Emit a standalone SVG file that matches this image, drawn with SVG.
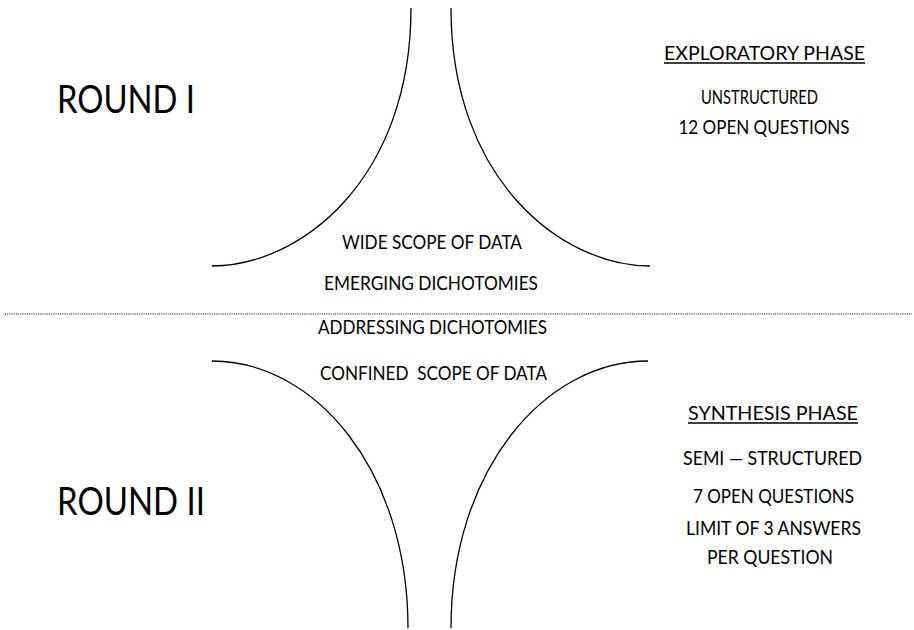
<svg xmlns="http://www.w3.org/2000/svg" width="914" height="630" viewBox="0 0 914 630">
<style>
  .t { font-family: Lato, "Open Sans", "Liberation Sans", sans-serif; font-size: 19.5px; fill: #000; text-anchor: middle; white-space: pre; }
  .big { font-family: Lato, "Open Sans", "Liberation Sans", sans-serif; font-size: 39px; fill: #000; }
  .curve { fill: none; stroke: #000; stroke-width: 1.3; }
  .ul { stroke: #000; stroke-width: 1.3; }
</style>
<rect width="914" height="630" fill="#fff"/>
<g id="connectors">
  <path class="curve" d="M411,8 C411,180 300,266 212,266"/>
  <path class="curve" d="M451,8 C451,180 562,266 650,266"/>
  <path class="curve" d="M212,361 C315,361 408,470 408,628"/>
  <path class="curve" d="M648,361 C545,361 451,470 451,628"/>
  <line x1="5" y1="314" x2="912" y2="314" stroke="#000" stroke-width="1" stroke-dasharray="1,1.2"/>
</g>
<g id="round1"><text class="big" x="57" y="113" textLength="138" lengthAdjust="spacingAndGlyphs">ROUND I</text></g>
<g id="round2"><text class="big" x="57" y="515" textLength="148" lengthAdjust="spacingAndGlyphs">ROUND II</text></g>
<g id="exploratory">
  <text class="t" x="764.5" y="60" textLength="201" lengthAdjust="spacingAndGlyphs">EXPLORATORY PHASE</text>
  <line class="ul" x1="664" y1="63" x2="865" y2="63"/>
  <text class="t" x="759.5" y="104" textLength="117" lengthAdjust="spacingAndGlyphs">UNSTRUCTURED</text>
  <text class="t" x="764" y="134" textLength="171" lengthAdjust="spacingAndGlyphs">12 OPEN QUESTIONS</text>
</g>
<g id="synthesis">
  <text class="t" x="773" y="420" textLength="170" lengthAdjust="spacingAndGlyphs">SYNTHESIS PHASE</text>
  <line class="ul" x1="688" y1="423" x2="858" y2="423"/>
  <text class="t" x="772.5" y="465" textLength="179" lengthAdjust="spacingAndGlyphs">SEMI — STRUCTURED</text>
  <text class="t" x="773.5" y="503" textLength="161" lengthAdjust="spacingAndGlyphs">7 OPEN QUESTIONS</text>
  <text class="t" x="773.5" y="535" textLength="175" lengthAdjust="spacingAndGlyphs">LIMIT OF 3 ANSWERS</text>
  <text class="t" x="770" y="564" textLength="126" lengthAdjust="spacingAndGlyphs">PER QUESTION</text>
</g>
<g id="center-top">
  <text class="t" x="432" y="249" textLength="180" lengthAdjust="spacingAndGlyphs">WIDE SCOPE OF DATA</text>
  <text class="t" x="431" y="290" textLength="214" lengthAdjust="spacingAndGlyphs">EMERGING DICHOTOMIES</text>
</g>
<g id="center-bottom">
  <text class="t" x="432.5" y="334" textLength="229" lengthAdjust="spacingAndGlyphs">ADDRESSING DICHOTOMIES</text>
  <text class="t" x="433.5" y="380" textLength="227" lengthAdjust="spacingAndGlyphs">CONFINED  SCOPE OF DATA</text>
</g>
</svg>
